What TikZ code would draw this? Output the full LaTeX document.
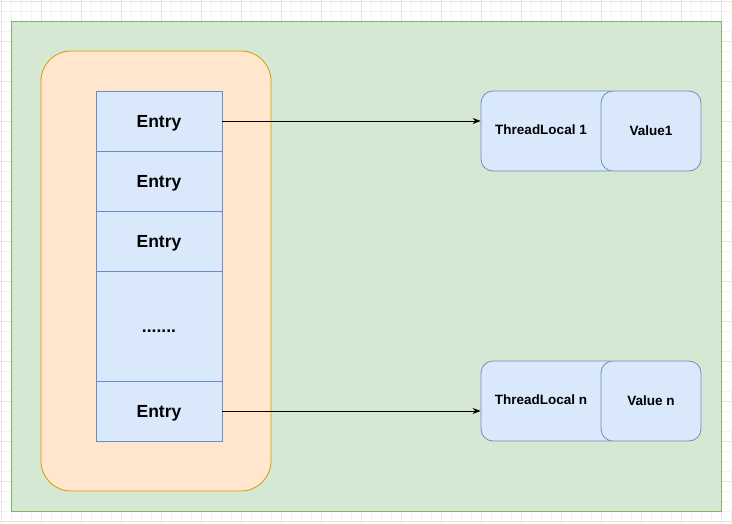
\documentclass[tikz,border=0pt]{standalone}
\usepackage{fontspec}
\setmainfont{Liberation Sans}
\usetikzlibrary{arrows.meta}

\definecolor{gridminor}{HTML}{F3F3F3}
\definecolor{gridmajor}{HTML}{E4E4E4}
\definecolor{greenfill}{HTML}{D5E8D4}
\definecolor{greenline}{HTML}{82B366}
\definecolor{orangefill}{HTML}{FFE6CC}
\definecolor{orangeline}{HTML}{D79B00}
\definecolor{bluefill}{HTML}{DAE8FC}
\definecolor{blueline}{HTML}{6C8EBF}

\begin{document}
\begin{tikzpicture}[x=1pt, y=-1pt,
    % Define the styles for the boxes
    cell/.style={draw=blueline, fill=bluefill, line width=0.8pt, inner sep=0pt,
        minimum width=126pt, text height=12.5pt, text depth=0pt,
        font=\fontsize{17.5}{20}\selectfont\bfseries},
    pairbox/.style={draw=blueline, fill=bluefill, line width=0.8pt, inner sep=0pt,
        rounded corners=12pt, minimum height=80pt},
    pairtext/.style={font=\fontsize{13.5}{16}\selectfont\bfseries, text depth=0pt},
    link/.style={-{Stealth[length=8pt, width=6pt]}, line width=0.8pt}
]

\useasboundingbox (0,0) rectangle (732,523);

% Background grid
\foreach \x in {1.7,11.7,...,731.7} {\draw[gridminor, line width=0.6pt] (\x,0) -- (\x,523);}
\foreach \y in {1.7,11.7,...,521.7} {\draw[gridminor, line width=0.6pt] (0,\y) -- (732,\y);}
\foreach \x in {1.7,41.7,...,731.7} {\draw[gridmajor, line width=0.8pt] (\x,0) -- (\x,523);}
\foreach \y in {1.7,41.7,...,521.7} {\draw[gridmajor, line width=0.8pt] (0,\y) -- (732,\y);}

% Outer container and map area
\draw[greenline, fill=greenfill, line width=0.8pt] (11.5,21) rectangle (721.5,511.5);
\draw[orangeline, fill=orangefill, line width=0.8pt, rounded corners=30pt] (41,51) rectangle (271,491);

% Entry table
\node[cell, minimum height=60pt] (e1) at (159,121) {Entry};
\node[cell, minimum height=60pt] (e2) at (159,181) {Entry};
\node[cell, minimum height=60pt] (e3) at (159,241) {Entry};
\node[cell, minimum height=110pt] (dots) at (159,326) {.......};
\node[cell, minimum height=60pt] (en) at (159,411) {Entry};

% Key / value pairs
\node[pairbox, minimum width=140pt] (tl1) at (551,131) {};
\node[pairtext] (tl1label) at (541,130) {ThreadLocal 1};
\node[pairbox, minimum width=100pt, pairtext] (val1) at (651,131) {Value1};

\node[pairbox, minimum width=140pt] (tln) at (551,401) {};
\node[pairtext] (tlnlabel) at (541,400) {ThreadLocal n};
\node[pairbox, minimum width=100pt, pairtext] (valn) at (651,401) {Value n};

% Draw the links
\draw[link] (e1.east) -- (e1.east -| tl1.west);
\draw[link] (en.east) -- (en.east -| tln.west);

\end{tikzpicture}
\end{document}
